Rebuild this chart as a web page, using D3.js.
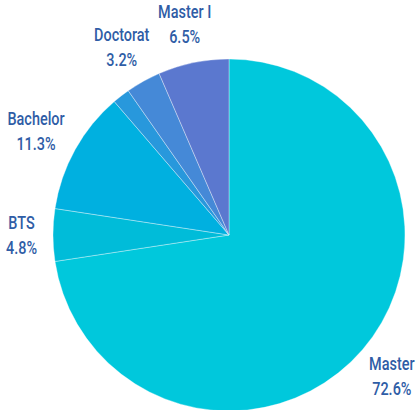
<!DOCTYPE html>
<html><head><meta charset="utf-8">
<script src="https://cdn.jsdelivr.net/npm/d3@7"></script>
<style>body{margin:0;background:#fff}svg{display:block}</style>
</head><body>
<script>
const categories = ["Master", "BTS", "Bachelor", "Autre", "Doctorat", "Master I"];
const values = [72.6, 4.8, 11.3, 1.6, 3.2, 6.5];
const showLabel = [true, true, true, false, true, true];
const colors = ["#00C8DC", "#00BCD9", "#00B0E0", "#2898DC", "#4589D7", "#5B78CF"];

const W = 416, H = 410, cx = 229, cy = 235, R = 176, LR = R + 16, SX = 0.76;
const svg = d3.select("body").append("svg").attr("width", W).attr("height", H);
const g = svg.append("g").attr("transform", `translate(${cx},${cy})`);
const data = categories.map((c, i) => ({c, v: values[i], i}));
const pie = d3.pie().value(d => d.v).sort(null);
const arc = d3.arc().innerRadius(0).outerRadius(R);
const arcs = pie(data);
g.selectAll("path").data(arcs).join("path")
  .attr("d", arc).attr("fill", d => colors[d.data.i])
  .attr("stroke", "#fff").attr("stroke-opacity", 0.5).attr("stroke-width", 0.7);

const fmt = d3.format(".1f");
const tg = g.selectAll("g.l").data(arcs.filter(d => showLabel[d.data.i])).join("g").attr("class", "l");
const inner = tg.append("g").attr("transform", `scale(${SX},1)`);
[[d => d.data.c, 0], [d => fmt(d.data.v) + "%", 25]].forEach(([f, dy]) => {
  inner.append("text").attr("text-anchor", "middle").attr("y", dy)
    .attr("font-family", "Roboto, sans-serif").attr("font-weight", 500)
    .attr("font-size", 19).attr("fill", "#2F5DA6").text(f);
});
tg.each(function(d) {
  const b = d3.select(this).select("g").node().getBBox();
  const w = b.width * SX, h = b.height;
  const a = (d.startAngle + d.endAngle) / 2;
  const s = Math.sin(a), c = Math.cos(a);
  const px = LR * s, py = -LR * c;
  const bx = px + s * w / 2, by = py - c * h / 2;
  const ox = bx - (b.x + b.width / 2) * SX, oy = by - (b.y + b.height / 2);
  d3.select(this).attr("transform", `translate(${ox},${oy})`);
});
</script>
</body></html>
